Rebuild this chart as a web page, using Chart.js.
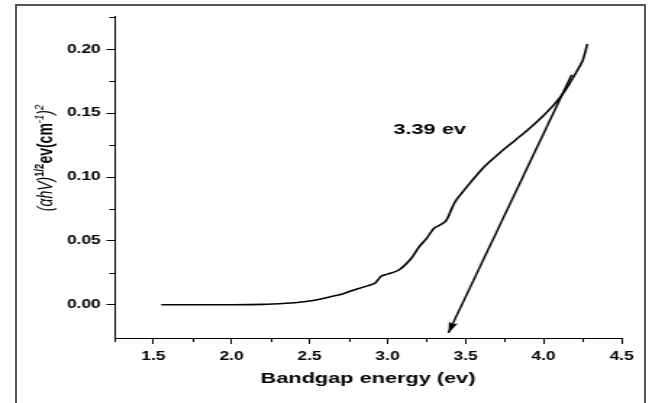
<!DOCTYPE html>
<html>
<head>
<meta charset="utf-8">
<script src="https://cdn.jsdelivr.net/npm/chart.js@4.4.1/dist/chart.umd.min.js"></script>
<style>
  body { margin: 0; background: #fff; }
  #wrap { position: relative; width: 652px; height: 403px; overflow: hidden; }
  #frame { position: absolute; left: 15px; top: 4px; width: 627px; height: 420px; border: 2px solid #555; pointer-events: none; }
</style>
</head>
<body>
<div id="wrap">
  <!-- the source figure is stretched sideways, so the canvas is drawn narrow and widened by css -->
  <canvas id="chartBandgap" width="450" height="403" style="width:652px;height:403px"></canvas>
  <div id="frame"></div>
</div>
<script>
var energy = [1.55, 1.8, 2.0, 2.2, 2.35, 2.45, 2.55, 2.64, 2.7, 2.77, 2.85, 2.92, 2.96, 3.0, 3.07,
  3.15, 3.2, 3.25, 3.3, 3.37, 3.43, 3.52, 3.62, 3.72, 3.82, 3.9, 3.99, 4.07, 4.14, 4.2, 4.25, 4.28];
var absorb = [0, 0, 0, 0.0003, 0.0012, 0.0022, 0.004, 0.0065, 0.008, 0.011, 0.014, 0.017, 0.0225, 0.024, 0.027,
  0.036, 0.045, 0.052, 0.060, 0.065, 0.080, 0.094, 0.108, 0.119, 0.129, 0.137, 0.147, 0.157, 0.168, 0.180, 0.191, 0.204];

// tangent line: from upper end down to the arrow tip at 3.39 ev
var fitX = [4.18, 3.39];
var fitY = [0.18, -0.022];

var gapLabel = '3.39 ev';
var gapLabelAt = [3.27, 0.137];

var xMajor = [1.5, 2.0, 2.5, 3.0, 3.5, 4.0, 4.5];
var xMinor = [1.25, 1.75, 2.25, 2.75, 3.25, 3.75, 4.25];
var yMajor = [0, 0.05, 0.10, 0.15, 0.20];
var yMinor = [0.025, 0.075, 0.125, 0.175, 0.225];

var curvePts = energy.map(function (e, i) { return {x: e, y: absorb[i]}; });
var fitPts = fitX.map(function (e, i) { return {x: e, y: fitY[i]}; });

var extras = {
  id: 'extras',
  afterDatasetsDraw: function (chart) {
    var c = chart.ctx, xs = chart.scales.x, ys = chart.scales.y, a = chart.chartArea;
    c.save();
    // minor ticks
    c.strokeStyle = '#000';
    c.lineWidth = 1;
    c.beginPath();
    xMinor.forEach(function (v) {
      var px = Math.round(xs.getPixelForValue(v)) + 0.5;
      c.moveTo(px, a.bottom); c.lineTo(px, a.bottom + 4);
    });
    yMinor.forEach(function (v) {
      var py = Math.round(ys.getPixelForValue(v)) + 0.5;
      c.moveTo(a.left, py); c.lineTo(a.left - 3.5, py);
    });
    c.stroke();

    // arrow head at the tip of the tangent
    var pts = chart.getDatasetMeta(1).data;
    var p0 = pts[0], p1 = pts[1];
    var ang = Math.atan2(p1.y - p0.y, p1.x - p0.x);
    c.translate(p1.x, p1.y);
    c.rotate(ang);
    c.fillStyle = '#000';
    c.beginPath();
    c.moveTo(0, 0);
    c.lineTo(-11, -3.2);
    c.lineTo(-9, 0);
    c.lineTo(-11, 3.2);
    c.closePath();
    c.fill();
    c.setTransform(1, 0, 0, 1, 0, 0);

    // bandgap label
    c.font = 'bold 15px Arial, "Liberation Sans"';
    c.textAlign = 'center';
    c.textBaseline = 'middle';
    c.fillText(gapLabel, xs.getPixelForValue(gapLabelAt[0]), ys.getPixelForValue(gapLabelAt[1]));

    // y axis title with superscripts
    var parts = [
      {t: '(\u03B1hV)', f: 'italic 14px Arial, "Liberation Sans"', up: 0},
      {t: '1/2', f: 'bold 9.5px Arial, "Liberation Sans"', up: 6},
      {t: 'ev(cm', f: 'bold 14px Arial, "Liberation Sans"', up: 0},
      {t: '-1', f: 'italic 9.5px Arial, "Liberation Sans"', up: 6},
      {t: ')', f: 'italic 14px Arial, "Liberation Sans"', up: 0},
      {t: '2', f: 'italic 9.5px Arial, "Liberation Sans"', up: 6}
    ];
    var total = 0;
    parts.forEach(function (p) { c.font = p.f; p.w = c.measureText(p.t).width; total += p.w; });
    c.translate(36, 158);
    c.rotate(-Math.PI / 2);
    c.textAlign = 'left';
    c.textBaseline = 'alphabetic';
    var cx = -total / 2;
    parts.forEach(function (p) {
      c.font = p.f;
      c.fillText(p.t, cx, -p.up);
      cx += p.w;
    });
    c.restore();
  }
};

var tickFont = {family: 'Arial, "Liberation Sans"', size: 12, weight: 'bold'};

new Chart(document.getElementById('chartBandgap'), {
  type: 'scatter',
  data: {
    datasets: [{
      data: curvePts,
      showLine: true,
      borderColor: '#000',
      borderWidth: 1.6,
      pointRadius: 0,
      tension: 0.25
    }, {
      data: fitPts,
      showLine: true,
      borderColor: '#000',
      borderWidth: 1.5,
      pointRadius: 0
    }]
  },
  options: {
    responsive: false,
    animation: false,
    devicePixelRatio: 1,
    layout: { padding: { top: 16, right: 21, left: 0, bottom: 0 } },
    scales: {
      x: {
        type: 'linear',
        min: 1.25,
        max: 4.5,
        afterBuildTicks: function (s) { s.ticks = xMajor.map(function (v) { return {value: v}; }); },
        afterFit: function (s) { s.height = 65; },
        grid: { drawOnChartArea: false, tickLength: 6, color: '#000' },
        border: { color: '#000', width: 1 },
        ticks: { font: tickFont, color: '#000', padding: 5, maxRotation: 0, autoSkip: false,
          callback: function (v) { return v.toFixed(1); } },
        title: { display: true, text: 'Bandgap energy (ev)', color: '#000',
          font: {family: 'Arial, "Liberation Sans"', size: 15, weight: 'bold'},
          padding: { top: 0, bottom: 15 } }
      },
      y: {
        min: -0.026,
        max: 0.226,
        afterBuildTicks: function (s) { s.ticks = yMajor.map(function (v) { return {value: v}; }); },
        afterFit: function (s) { s.width = 79; },
        grid: { drawOnChartArea: false, tickLength: 5.5, color: '#000' },
        border: { color: '#000', width: 1 },
        ticks: { font: tickFont, color: '#000', padding: 4,
          callback: function (v) { return v.toFixed(2); } }
      }
    },
    plugins: {
      legend: { display: false },
      tooltip: { enabled: false }
    }
  },
  plugins: [extras]
});
</script>
</body>
</html>
